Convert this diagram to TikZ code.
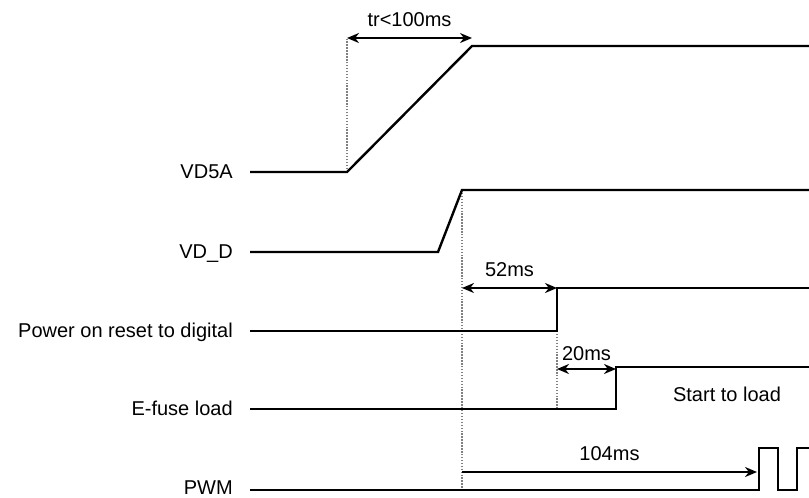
\documentclass[tikz,border=0pt]{standalone}
\usepackage{fontspec}
\setmainfont{Liberation Sans}
\usetikzlibrary{arrows.meta,positioning}

\begin{document}
\begin{tikzpicture}[
  x=0.75pt,y=-0.75pt,
  >={Stealth[length=9pt,width=7.5pt]},
  every node/.style={font=\fontsize{15pt}{17pt}\selectfont},
  siglabel/.style={anchor=base east,inner sep=0pt},
  signal/.style={line width=1.8pt},
  guide/.style={gray,line width=1pt,dash pattern=on 1.1pt off 1.1pt},
  span/.style={line width=1.8pt}]
  \useasboundingbox (0,0) rectangle (809,497);
  % a-VD5A d-VD_D p-power on reset e-E-fuse w-PWM
  \node [siglabel] (na) at (233,178) {VD5A};
  \node [siglabel] (nd) at (233,258) {VD\_D};
  \node [siglabel] (np) at (233,337) {Power on reset to digital};
  \node [siglabel] (ne) at (233,415) {E-fuse load};
  \node [siglabel] (nw) at (233,494) {PWM};

  \coordinate (a0) at (250,172); \coordinate (a1) at (347,172);
  \coordinate (a2) at (472,46);  \coordinate (a3) at (809,46);
  \coordinate (d0) at (250,252); \coordinate (d1) at (438,252);
  \coordinate (d2) at (462,190); \coordinate (d3) at (809,190);
  \coordinate (p0) at (250,331); \coordinate (p1) at (557,331);
  \coordinate (p2) at (557,288); \coordinate (p3) at (809,288);
  \coordinate (e0) at (250,409); \coordinate (e1) at (616,409);
  \coordinate (e2) at (616,367); \coordinate (e3) at (809,367);
  \coordinate (w0) at (250,490); \coordinate (w1) at (759,490);
  \coordinate (w2) at (759,448); \coordinate (w3) at (778,448);
  \coordinate (w4) at (778,490); \coordinate (w5) at (797,490);
  \coordinate (w6) at (797,448); \coordinate (w7) at (809,448);

  % guides
  \coordinate (trL) at (347,38);  \coordinate (trR) at (472,38);
  \coordinate (dB)  at (462,490);
  \coordinate (pB)  at (557,410);
  \draw [guide] (a1) -- (trL);
  \draw [guide] (d2) -- (dB);
  \draw [guide] (p1) -- (pB);

  % waveforms
  \draw [signal] (a0) -- (a1) -- (a2) -- (a3);
  \draw [signal] (d0) -- (d1) -- (d2) -- (d3);
  \draw [signal] (p0) -- (p1) -- (p2) -- (p3);
  \draw [signal] (e0) -- (e1) -- (e2) -- (e3);
  \draw [signal] (w0) -- (w1) -- (w2) -- (w3) -- (w4) -- (w5) -- (w6) -- (w7);

  % timings
  \coordinate (pL) at (462,288);
  \coordinate (eL) at (557,369); \coordinate (eR) at (616,369);
  \coordinate (wL) at (462,472); \coordinate (wR) at (757,472);
  \draw [span,<->] (trL) -- (trR) node [midway,above=4pt] (ttr) {tr<100ms};
  \draw [span,<->] (pL) -- (p2) node [midway,above=4pt] (tp) {52ms};
  \draw [span,<->] (eL) -- (eR) node [midway,above=2pt] (te) {20ms};
  \draw [span,->] (wL) -- (wR) node [midway,above=4pt] (tw) {104ms};
  \node (load) at (727,394) {Start to load};
\end{tikzpicture}
\end{document}
